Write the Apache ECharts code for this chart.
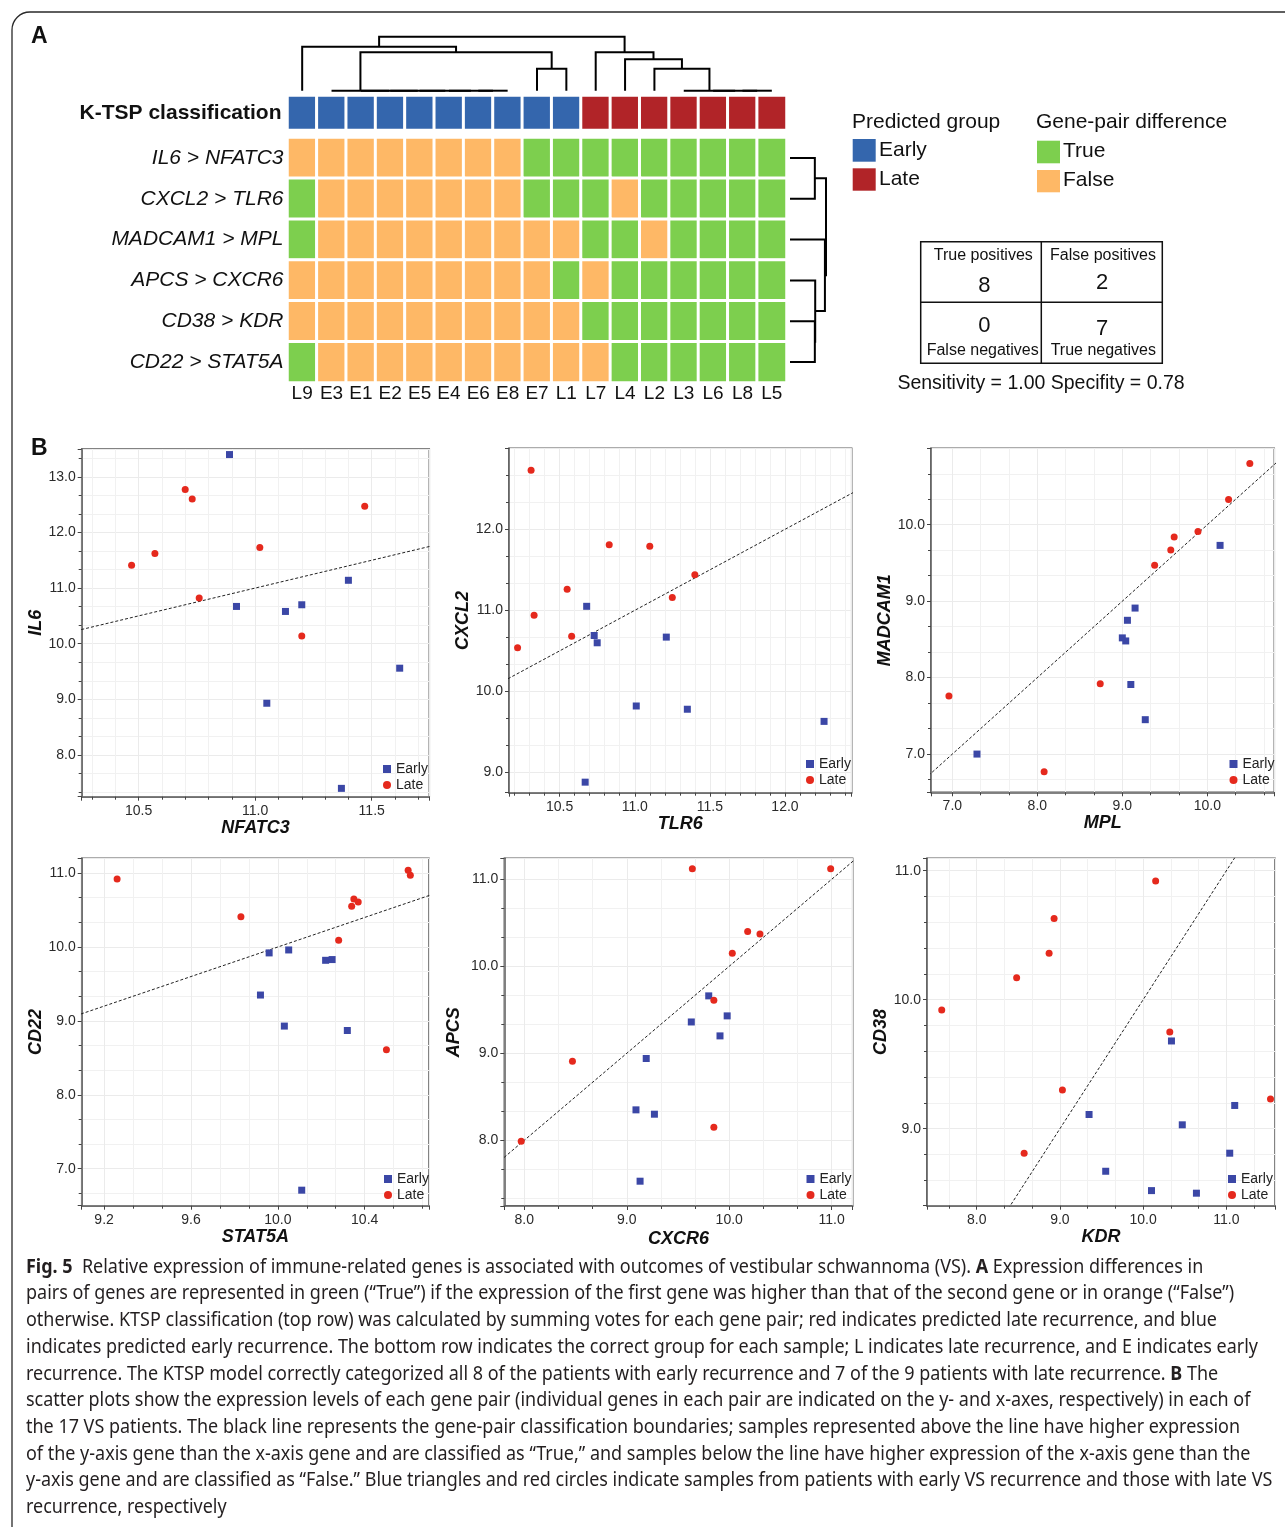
<!DOCTYPE html>
<html lang="en">
<head>
<meta charset="UTF-8">
<script src="https://cdn.jsdelivr.net/npm/echarts@6.0.0/dist/echarts.min.js"></script>
<style>
  html, body { margin: 0; padding: 0; background: #fff; }
  #main { width: 1285px; height: 1527px; }
</style>
</head>
<body>
<div id="main"></div>
<script>
// ---------- data ----------
const samples = ['L9', 'E3', 'E1', 'E2', 'E5', 'E4', 'E6', 'E8', 'E7', 'L1', 'L7', 'L4', 'L2', 'L3', 'L6', 'L8', 'L5'];
const genePairs = ['IL6 > NFATC3', 'CXCL2 > TLR6', 'MADCAM1 > MPL', 'APCS > CXCR6', 'CD38 > KDR', 'CD22 > STAT5A'];
// K-TSP predicted group per sample: 0 = Early, 1 = Late
const ktspPredicted = [0, 0, 0, 0, 0, 0, 0, 0, 0, 0, 1, 1, 1, 1, 1, 1, 1];
// gene-pair difference per pair (row) and sample (column): 1 = True, 0 = False
const pairTrue = [
  [0, 0, 0, 0, 0, 0, 0, 0, 1, 1, 1, 1, 1, 1, 1, 1, 1],
  [1, 0, 0, 0, 0, 0, 0, 0, 1, 1, 1, 0, 1, 1, 1, 1, 1],
  [1, 0, 0, 0, 0, 0, 0, 0, 0, 0, 1, 1, 0, 1, 1, 1, 1],
  [0, 0, 0, 0, 0, 0, 0, 0, 0, 1, 0, 1, 1, 1, 1, 1, 1],
  [0, 0, 0, 0, 0, 0, 0, 0, 0, 0, 1, 1, 1, 1, 1, 1, 1],
  [1, 0, 0, 0, 0, 0, 0, 0, 0, 0, 0, 1, 1, 1, 1, 1, 1]
];
// dendrograms as [height, left, right], leaves are column / row indices
const sampleTree = [1.0,
  [0.815, 0, [0.711, [0, 1, [0, 2, [0, 3, [0, 4, [0, 5, [0, 6, 7]]]]]], [0.407, 8, 9]]],
  [0.711, 10, [0.581, 11, [0.407, 12, [0, 13, [0, 14, [0, 15, 16]]]]]]];
const pairTree = [1.0, [0.69, 0, 1], [0.97, 2, [0.7, 3, [0.69, 4, 5]]]];

const confusion = { tp: 8, fp: 2, fn: 0, tn: 7 };

// scatter values [x, y]
const il6Early = [[10.89, 13.40], [11.40, 11.14], [10.92, 10.67], [11.13, 10.58], [11.20, 10.70], [11.62, 9.56], [11.05, 8.93], [11.37, 7.40]];
const il6Late = [[10.70, 12.77], [10.73, 12.60], [11.47, 12.47], [10.57, 11.62], [10.47, 11.41], [11.02, 11.73], [10.76, 10.82], [11.20, 10.14]];
const cxcl2Early = [[10.68, 11.05], [10.73, 10.69], [10.75, 10.60], [11.21, 10.67], [11.01, 9.82], [11.35, 9.78], [12.26, 9.63], [10.67, 8.88]];
const cxcl2Late = [[10.31, 12.73], [10.83, 11.81], [11.10, 11.79], [11.40, 11.44], [10.55, 11.26], [11.25, 11.16], [10.33, 10.94], [10.58, 10.68], [10.22, 10.54]];
const madcamEarly = [[7.29, 7.00], [10.15, 9.73], [9.15, 8.91], [9.06, 8.75], [9.00, 8.52], [9.04, 8.48], [9.10, 7.91], [9.27, 7.45]];
const madcamLate = [[10.50, 10.80], [10.25, 10.33], [9.89, 9.91], [9.61, 9.84], [9.57, 9.67], [9.38, 9.47], [8.74, 7.92], [6.96, 7.76], [8.08, 6.77]];
const cd22Early = [[9.96, 9.92], [10.05, 9.96], [10.22, 9.82], [10.25, 9.83], [9.92, 9.35], [10.03, 8.93], [10.32, 8.87], [10.11, 6.71]];
const cd22Late = [[9.26, 10.92], [9.83, 10.41], [10.35, 10.65], [10.34, 10.55], [10.37, 10.61], [10.28, 10.09], [10.60, 11.04], [10.61, 10.97], [10.50, 8.61]];
const apcsEarly = [[9.80, 9.66], [9.63, 9.36], [9.98, 9.43], [9.91, 9.20], [9.19, 8.94], [9.09, 8.35], [9.27, 8.30], [9.13, 7.53]];
const apcsLate = [[9.64, 11.12], [10.99, 11.12], [10.18, 10.40], [10.30, 10.37], [10.03, 10.15], [9.85, 9.61], [8.47, 8.91], [9.85, 8.15], [7.97, 7.99]];
const cd38Early = [[10.34, 9.68], [9.35, 9.11], [10.47, 9.03], [11.10, 9.18], [11.04, 8.81], [9.55, 8.67], [10.10, 8.52], [10.64, 8.50]];
const cd38Late = [[10.15, 10.92], [8.93, 10.63], [8.87, 10.36], [8.48, 10.17], [7.58, 9.92], [10.32, 9.75], [9.03, 9.30], [11.53, 9.23], [8.57, 8.81]];

const captionLines = [
  '{b|Fig. 5}  Relative expression of immune-related genes is associated with outcomes of vestibular schwannoma (VS). {b|A} Expression differences in',
  'pairs of genes are represented in green (\u201cTrue\u201d) if the expression of the first gene was higher than that of the second gene or in orange (\u201cFalse\u201d)',
  'otherwise. KTSP classification (top row) was calculated by summing votes for each gene pair; red indicates predicted late recurrence, and blue',
  'indicates predicted early recurrence. The bottom row indicates the correct group for each sample; L indicates late recurrence, and E indicates early',
  'recurrence. The KTSP model correctly categorized all 8 of the patients with early recurrence and 7 of the 9 patients with late recurrence. {b|B} The',
  'scatter plots show the expression levels of each gene pair (individual genes in each pair are indicated on the y- and x-axes, respectively) in each of',
  'the 17 VS patients. The black line represents the gene-pair classification boundaries; samples represented above the line have higher expression',
  'of the y-axis gene than the x-axis gene and are classified as \u201cTrue,\u201d and samples below the line have higher expression of the x-axis gene than the',
  'y-axis gene and are classified as \u201cFalse.\u201d Blue triangles and red circles indicate samples from patients with early VS recurrence and those with late VS',
  'recurrence, respectively'
];

// ---------- layout / style ----------
const FONT = '"Liberation Sans", Arial, Helvetica, sans-serif';
const CAP_FONT = '"Noto Sans", "Open Sans", sans-serif';
const COL = { early: '#3466ad', late: '#b12428', yes: '#7dcf4e', no: '#feb866', pEarly: '#3b47a6', pLate: '#e5291d' };

const panels = [
  { yName: 'IL6', xName: 'NFATC3', early: il6Early, late: il6Late, box: [81.7, 449, 347.6, 347.7],
    x: [10.256, 11.747, 0.5, 5], y: [7.25, 13.5, 1, 3], legend: [383, 761], xGap: 21, yGap: 36 },
  { yName: 'CXCL2', xName: 'TLR6', early: cxcl2Early, late: cxcl2Late, box: [509, 448.3, 342.7, 344.4],
    x: [10.163, 12.444, 0.5, 5], y: [8.75, 13.0, 1, 3], legend: [806, 756], xGap: 21, yGap: 36 },
  { yName: 'MADCAM1', xName: 'MPL', early: madcamEarly, late: madcamLate, box: [931, 448.3, 343.3, 344],
    x: [6.749, 10.788, 1, 3], y: [6.5, 11.0, 1, 3], legend: [1229.5, 756], xGap: 21, yGap: 36 },
  { yName: 'CD22', xName: 'STAT5A', early: cd22Early, late: cd22Late, box: [81.7, 858.3, 347.3, 347.4],
    x: [9.097, 10.696, 0.4, 3], y: [6.5, 11.2, 1, 3], legend: [384, 1171], xGap: 21, yGap: 36 },
  { yName: 'APCS', xName: 'CXCR6', early: apcsEarly, late: apcsLate, box: [504.3, 858.3, 348.4, 347.7],
    x: [7.805, 11.205, 1, 3], y: [7.245, 11.241, 1, 3], legend: [806.5, 1171], xGap: 24, yGap: 41 },
  { yName: 'CD38', xName: 'KDR', early: cd38Early, late: cd38Late, box: [927, 858.3, 348, 347.4],
    x: [7.403, 11.584, 1, 3], y: [8.403, 11.096, 1, 5], legend: [1228, 1171], xGap: 20, yGap: 35 }
];

function treeSegments(node, segs, horizontal) {
  if (typeof node === 'number') return { pos: node, h: 0 };
  const a = treeSegments(node[1], segs, horizontal);
  const b = treeSegments(node[2], segs, horizontal);
  const h = node[0];
  const pts = [[a.pos, a.h], [a.pos, h], [b.pos, h], [b.pos, b.h]];
  segs.push({ coords: horizontal ? pts.map(p => [p[1], p[0]]) : pts });
  return { pos: (a.pos + b.pos) / 2, h: h };
}

function valueAxis(gi, r, name, gap, dir) {
  return {
    type: 'value', gridIndex: gi, min: r[0], max: r[1], minInterval: r[2], maxInterval: r[2],
    splitNumber: Math.max(1, Math.round((r[1] - r[0]) / r[2])),
    name: name, nameLocation: 'middle', nameGap: gap, nameRotate: dir === 'y' ? 90 : 0,
    nameTextStyle: { fontSize: 18, fontWeight: 'bold', fontStyle: 'italic', color: '#111', fontFamily: FONT },
    axisLine: { show: true, onZero: false, lineStyle: { color: '#5b5b5b', width: 1.5 } },
    axisTick: { show: true, length: 4, lineStyle: { color: '#444' } },
    minorTick: { show: true, splitNumber: r[3], length: 3, lineStyle: { color: '#444' } },
    splitLine: { show: true, lineStyle: { color: '#ebebeb', width: 1 } },
    minorSplitLine: { show: true, lineStyle: { color: '#f1f1f1', width: 1 } },
    axisLabel: { fontSize: 14, color: '#2a2a2a', margin: dir === 'y' ? 6 : 7, fontFamily: FONT,
      showMinLabel: false, showMaxLabel: false, formatter: v => v.toFixed(1) }
  };
}

const hidden = { axisLine: { show: false }, axisTick: { show: false }, splitLine: { show: false }, splitArea: { show: false } };

const grids = [
  { left: 287.5, top: 95.5, width: 499, height: 34.5 },
  { left: 287.5, top: 137.5, width: 499, height: 245 },
  { left: 287.5, top: 36.7, width: 499, height: 54 },
  { left: 790, top: 137.5, width: 36, height: 245 }
];
const xAxes = [
  Object.assign({ type: 'category', gridIndex: 0, data: samples, show: false }, hidden),
  Object.assign({ type: 'category', gridIndex: 1, data: samples, position: 'bottom',
    axisLabel: { fontSize: 19, color: '#111', margin: 2, interval: 0, fontFamily: FONT } }, hidden),
  { type: 'value', gridIndex: 2, min: -0.5, max: samples.length - 0.5, show: false },
  { type: 'value', gridIndex: 3, min: 0, max: 1, show: false }
];
const yAxes = [
  Object.assign({ type: 'category', gridIndex: 0, data: ['K-TSP classification'],
    axisLabel: { fontSize: 21, fontWeight: 'bold', color: '#111', margin: 6, fontFamily: FONT } }, hidden),
  Object.assign({ type: 'category', gridIndex: 1, data: genePairs, inverse: true,
    axisLabel: { fontSize: 21, fontStyle: 'italic', color: '#111', margin: 4, interval: 0, fontFamily: FONT } }, hidden),
  { type: 'value', gridIndex: 2, min: 0, max: 1, show: false },
  { type: 'value', gridIndex: 3, min: -0.5, max: genePairs.length - 0.5, inverse: true, show: false }
];

const colSegs = [], rowSegs = [];
treeSegments(sampleTree, colSegs, false);
treeSegments(pairTree, rowSegs, true);

const series = [
  { type: 'heatmap', xAxisIndex: 0, yAxisIndex: 0, data: ktspPredicted.map((v, c) => [c, 0, v]),
    itemStyle: { borderColor: '#fff', borderWidth: 3 }, emphasis: { disabled: true }, silent: true },
  { type: 'heatmap', xAxisIndex: 1, yAxisIndex: 1,
    data: pairTrue.flatMap((row, r) => row.map((v, c) => [c, r, v])),
    itemStyle: { borderColor: '#fff', borderWidth: 3 }, emphasis: { disabled: true }, silent: true },
  { type: 'lines', coordinateSystem: 'cartesian2d', xAxisIndex: 2, yAxisIndex: 2, polyline: true, clip: false,
    data: colSegs, lineStyle: { color: '#000', width: 2, opacity: 1 }, silent: true },
  { type: 'lines', coordinateSystem: 'cartesian2d', xAxisIndex: 3, yAxisIndex: 3, polyline: true, clip: false,
    data: rowSegs, lineStyle: { color: '#000', width: 2, opacity: 1 }, silent: true }
];
const legends = [];

panels.forEach((p, i) => {
  const gi = 4 + i;
  grids.push({ left: p.box[0], top: p.box[1], width: p.box[2], height: p.box[3], show: true,
    borderColor: '#5b5b5b', borderWidth: 1.5, backgroundColor: '#fff' });
  xAxes.push(valueAxis(gi, p.x, p.xName, p.xGap, 'x'));
  yAxes.push(valueAxis(gi, p.y, p.yName, p.yGap, 'y'));
  const lo = Math.min(p.x[0], p.y[0]), hi = Math.max(p.x[1], p.y[1]);
  series.push({ type: 'line', xAxisIndex: gi, yAxisIndex: gi, data: [[lo, lo], [hi, hi]], symbol: 'none',
    clip: true, silent: true, z: 2, lineStyle: { color: '#222', width: 1, type: [3, 2] } });
  series.push({ type: 'scatter', name: 'Early', xAxisIndex: gi, yAxisIndex: gi, data: p.early,
    symbol: 'rect', symbolSize: 7, itemStyle: { color: COL.pEarly, opacity: 1 }, z: 3 });
  series.push({ type: 'scatter', name: 'Late', xAxisIndex: gi, yAxisIndex: gi, data: p.late,
    symbol: 'circle', symbolSize: 7, itemStyle: { color: COL.pLate, opacity: 1 }, z: 3 });
  legends.push({ left: p.legend[0], top: p.legend[1], orient: 'vertical', itemGap: 0, itemWidth: 8, itemHeight: 8,
    padding: 0, selectedMode: false,
    data: [{ name: 'Early', icon: 'rect' }, { name: 'Late', icon: 'circle' }],
    textStyle: { fontSize: 14, lineHeight: 16, color: '#222', fontFamily: FONT } });
});

// caption width fitting (condensed caption face)
const CAP_SIZE = 20;
const mctx = document.createElement('canvas').getContext('2d');
mctx.font = CAP_SIZE + 'px ' + CAP_FONT;
const capScale = 1232 / mctx.measureText(captionLines[3]).width;

function txt(x, y, text, size, extra) {
  return { type: 'text', x: x, y: y, silent: true,
    style: Object.assign({ text: text, fontSize: size, fontFamily: FONT, fill: '#111',
      align: 'left', verticalAlign: 'middle' }, extra || {}) };
}
function box(x, y, w, h, color) {
  return { type: 'rect', silent: true, shape: { x: x, y: y, width: w, height: h }, style: { fill: color } };
}
function seg(x1, y1, x2, y2) {
  return { type: 'line', silent: true, shape: { x1: x1, y1: y1, x2: x2, y2: y2 }, style: { stroke: '#111', lineWidth: 1.5 } };
}

const fmt2 = v => v.toFixed(2);
const sensitivity = confusion.tp / (confusion.tp + confusion.fn);
const specificity = confusion.tn / (confusion.tn + confusion.fp);

const graphics = [
  { type: 'rect', silent: true, shape: { x: 12, y: 12, width: 1300, height: 1560, r: 18 },
    style: { fill: 'none', stroke: '#2a2a2a', lineWidth: 1.3 } },
  txt(31, 37, 'A', 23, { fontWeight: 'bold' }),
  txt(31, 449, 'B', 23, { fontWeight: 'bold' }),
  // predicted group legend
  txt(852, 122.7, 'Predicted group', 21),
  box(852.7, 139, 23, 22.7, COL.early), txt(879, 150, 'Early', 21),
  box(852.7, 168.3, 23, 22.4, COL.late), txt(879, 179, 'Late', 21),
  // gene pair legend
  txt(1036, 122.7, 'Gene-pair difference', 21),
  box(1037, 140.7, 23, 22.6, COL.yes), txt(1063, 151, 'True', 21),
  box(1037, 170, 23, 22.3, COL.no), txt(1063, 180, 'False', 21),
  // confusion table
  { type: 'rect', silent: true, shape: { x: 920.7, y: 241.7, width: 241.6, height: 121.6 },
    style: { fill: 'none', stroke: '#111', lineWidth: 1.5 } },
  seg(1041.3, 241.7, 1041.3, 363.3), seg(920.7, 302.3, 1162.3, 302.3),
  txt(983.3, 255.7, 'True positives', 16, { align: 'center' }),
  txt(984.3, 285.7, String(confusion.tp), 22, { align: 'center' }),
  txt(1103, 255.7, 'False positives', 16, { align: 'center' }),
  txt(1102, 282.7, String(confusion.fp), 22, { align: 'center' }),
  txt(984.3, 326, String(confusion.fn), 22, { align: 'center' }),
  txt(982.7, 350.7, 'False negatives', 16, { align: 'center' }),
  txt(1102, 329, String(confusion.tn), 22, { align: 'center' }),
  txt(1103.3, 350.7, 'True negatives', 16, { align: 'center' }),
  txt(1041, 383.5, 'Sensitivity = ' + fmt2(sensitivity) + ' Specifity = ' + fmt2(specificity), 19.5, { align: 'center' })
];

captionLines.forEach((line, i) => {
  graphics.push({ type: 'text', silent: true, x: 26, y: 1267 + i * 26.7, scaleX: capScale, scaleY: 1,
    style: { text: line, fontSize: CAP_SIZE, fontFamily: CAP_FONT, fill: '#231f20', align: 'left', verticalAlign: 'middle',
      rich: { b: { fontSize: CAP_SIZE, fontFamily: CAP_FONT, fontWeight: 'bold', fill: '#231f20' } } } });
});

// ---------- chart ----------
const myChart = echarts.init(document.getElementById('main'), null, { renderer: 'canvas' });
myChart.setOption({
  backgroundColor: '#fff',
  animation: false,
  textStyle: { fontFamily: FONT },
  grid: grids.map(g => Object.assign({ outerBoundsMode: 'none', containLabel: false }, g)),
  xAxis: xAxes,
  yAxis: yAxes,
  visualMap: [
    { type: 'piecewise', show: false, seriesIndex: 0, dimension: 2,
      pieces: [{ value: 0, color: COL.early }, { value: 1, color: COL.late }] },
    { type: 'piecewise', show: false, seriesIndex: 1, dimension: 2,
      pieces: [{ value: 0, color: COL.no }, { value: 1, color: COL.yes }] }
  ],
  legend: legends,
  series: series,
  graphic: graphics
});
</script>
</body>
</html>
